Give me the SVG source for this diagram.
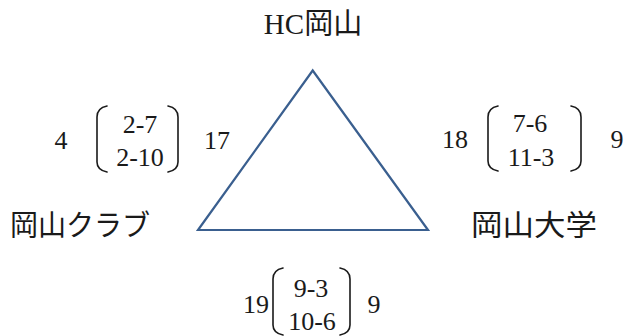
<svg xmlns="http://www.w3.org/2000/svg" width="625" height="336" viewBox="0 0 625 336">
<style>
.lbl{font-family:"Liberation Serif","Noto Sans CJK JP",serif;font-size:29px;fill:#1a1a1a}
.num{font-family:"Liberation Serif",serif;font-size:26px;fill:#1a1a1a}
.par{fill:none;stroke:#1a1a1a;stroke-width:1.6;stroke-linecap:round}
.tri{fill:none;stroke:#3A5F8F;stroke-width:2.2;stroke-linejoin:miter}
</style>
<rect width="625" height="336" fill="#ffffff"/>
<g id="connectors">
<polygon class="tri" points="312.7,70.5 198,230 428,230"/>
</g>
<g id="node-hc">
<text class="lbl" x="313" y="34" text-anchor="middle">HC岡山</text>
</g>
<g id="node-club">
<text class="lbl" x="10" y="236" textLength="140" lengthAdjust="spacingAndGlyphs">岡山クラブ</text>
</g>
<g id="node-univ">
<text class="lbl" x="471" y="236" textLength="126" lengthAdjust="spacingAndGlyphs">岡山大学</text>
</g>
<g id="score-left">
<text class="num" x="61" y="149" text-anchor="middle">4</text>
<path class="par" d="M107,106 Q97,108 97,117 L97,162 Q97,170 107,172"/>
<text class="num" x="140" y="133" text-anchor="middle">2-7</text>
<text class="num" x="140" y="166" text-anchor="middle">2-10</text>
<path class="par" d="M168,106 Q178,108 178,117 L178,162 Q178,170 168,172"/>
<text class="num" x="217" y="149" text-anchor="middle">17</text>
</g>
<g id="score-right">
<text class="num" x="455" y="148" text-anchor="middle">18</text>
<path class="par" d="M498,106 Q488,108 488,117 L488,161 Q488,169 498,171"/>
<text class="num" x="530" y="132" text-anchor="middle">7-6</text>
<text class="num" x="531" y="166" text-anchor="middle">11-3</text>
<path class="par" d="M571,106 Q581,108 581,117 L581,161 Q581,169 571,171"/>
<text class="num" x="617" y="148" text-anchor="middle">9</text>
</g>
<g id="score-bottom">
<text class="num" x="256" y="313" text-anchor="middle">19</text>
<path class="par" d="M283,268 Q273,270 273,279 L273,325 Q273,333 283,335"/>
<text class="num" x="311" y="297" text-anchor="middle">9-3</text>
<text class="num" x="312" y="330" text-anchor="middle">10-6</text>
<path class="par" d="M340,268 Q350,270 350,279 L350,325 Q350,333 340,335"/>
<text class="num" x="374" y="313" text-anchor="middle">9</text>
</g>
</svg>
